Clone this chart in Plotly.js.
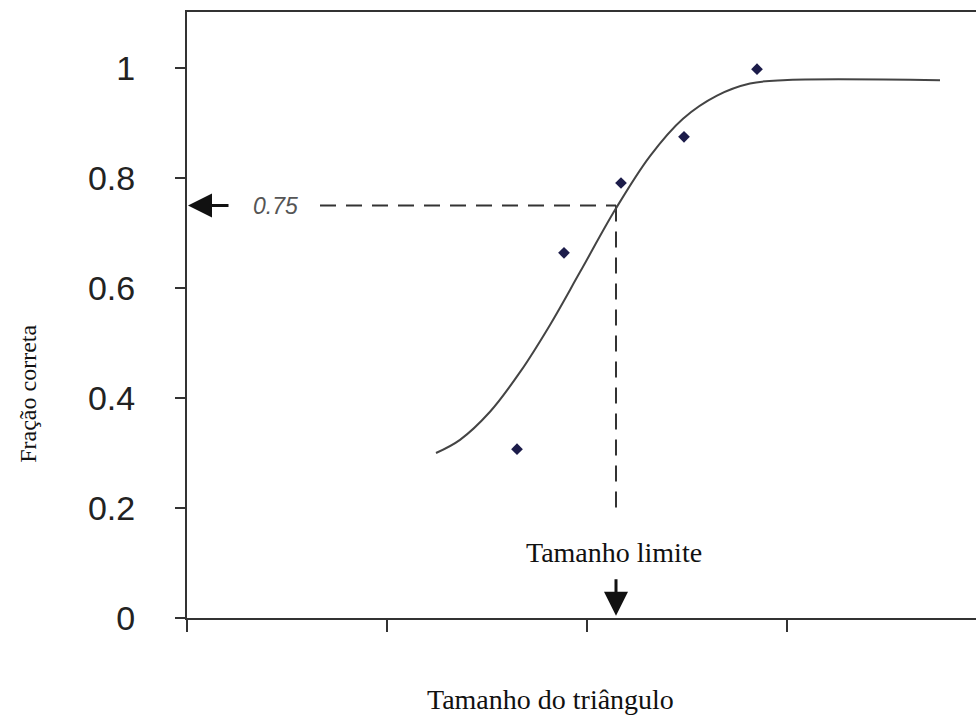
<!DOCTYPE html>
<html>
<head>
<meta charset="utf-8">
<script src="https://cdn.plot.ly/plotly-3.0.1.min.js"></script>
<style>html,body{margin:0;padding:0;background:#fff;}#chart{width:976px;height:722px;}</style>
</head>
<body>
<div id="chart"></div>
<script>
// Observed data points
const pointX = [1.65, 1.885, 2.17, 2.485, 2.85];
const pointY = [0.307, 0.664, 0.791, 0.875, 0.998];

// Fitted psychometric curve
const curveX = [1.245, 1.365, 1.515, 1.665, 1.815, 1.965, 2.145, 2.315, 2.48, 2.65, 2.815, 2.98, 3.765];
const curveY = [0.300, 0.324, 0.375, 0.447, 0.533, 0.629, 0.745, 0.840, 0.908, 0.950, 0.972, 0.978, 0.978];

// Threshold
const thresholdY = 0.75;
const thresholdX = 2.145;
const thresholdLabel = "0.75";
const thresholdText = "Tamanho limite";

// Axes
const yTickVals = [0, 0.2, 0.4, 0.6, 0.8, 1];
const yTickText = ["0", "0.2", "0.4", "0.6", "0.8", "1"];
const xTickVals = [0, 1, 2, 3];
const xTitle = "Tamanho do triângulo";
const yTitle = "Fração correta";

const serif = "Liberation Serif, Times New Roman, serif";
const sans = "Liberation Sans, Arial, sans-serif";

const traces = [
  {
    x: [0.665, thresholdX], y: [thresholdY, thresholdY],
    mode: "lines", line: {color: "#333", width: 2, dash: "16px,10px"},
    hoverinfo: "skip", showlegend: false
  },
  {
    x: [thresholdX, thresholdX], y: [thresholdY, 0.187],
    mode: "lines", line: {color: "#333", width: 2, dash: "16px,10px"},
    hoverinfo: "skip", showlegend: false
  },
  {
    x: curveX, y: curveY, mode: "lines",
    line: {color: "#444", width: 2, shape: "spline", smoothing: 1},
    showlegend: false
  },
  {
    x: pointX, y: pointY, mode: "markers",
    marker: {symbol: "diamond", size: 9, color: "#1c1c4a"},
    showlegend: false
  }
];

const layout = {
  width: 976, height: 722,
  margin: {l: 187, r: 0, t: 12, b: 104},
  paper_bgcolor: "#fff", plot_bgcolor: "#fff",
  showlegend: false,
  xaxis: {
    range: [0, 3.945], tickvals: xTickVals, showticklabels: false,
    ticks: "outside", ticklen: 12, tickwidth: 2, tickcolor: "#333",
    showline: true, linecolor: "#333", linewidth: 2, mirror: true,
    showgrid: false, zeroline: false
  },
  yaxis: {
    range: [0, 1.102], tickvals: yTickVals, ticktext: yTickText,
    ticks: "outside", ticklen: 10, tickwidth: 2, tickcolor: "#333",
    ticklabelstandoff: 33,
    tickfont: {family: sans, size: 34, color: "#222"},
    showline: true, linecolor: "#333", linewidth: 2,
    showgrid: false, zeroline: false
  },
  annotations: [
    {
      x: 0.005, y: thresholdY, ax: 0.215, ay: thresholdY,
      xref: "x", yref: "y", axref: "x", ayref: "y",
      text: "", showarrow: true, arrowhead: 2, arrowsize: 1.6, arrowwidth: 3, arrowcolor: "#111"
    },
    {
      x: 0.44, y: thresholdY, xref: "x", yref: "y", text: "<i>" + thresholdLabel + "</i>", showarrow: false,
      font: {family: sans, size: 23, color: "#555"}, xanchor: "center", yanchor: "middle"
    },
    {
      x: thresholdX - 0.01, y: 0.12, xref: "x", yref: "y", text: thresholdText, showarrow: false,
      font: {family: serif, size: 28, color: "#111"}, xanchor: "center", yanchor: "middle"
    },
    {
      x: thresholdX, y: 0.004, ax: thresholdX, ay: 0.073,
      xref: "x", yref: "y", axref: "x", ayref: "y",
      text: "", showarrow: true, arrowhead: 2, arrowsize: 1.6, arrowwidth: 3, arrowcolor: "#111"
    },
    {
      x: 1.815, y: -0.135, xref: "x", yref: "paper", text: xTitle, showarrow: false,
      font: {family: serif, size: 28, color: "#111"}, xanchor: "center", yanchor: "middle"
    },
    {
      x: 0, xshift: -159, y: 0.37, xref: "paper", yref: "paper", text: yTitle, showarrow: false,
      textangle: -90, font: {family: serif, size: 24, color: "#111"}, xanchor: "center", yanchor: "middle"
    }
  ]
};

Plotly.newPlot("chart", traces, layout, {displayModeBar: false, staticPlot: true});
</script>
</body>
</html>
